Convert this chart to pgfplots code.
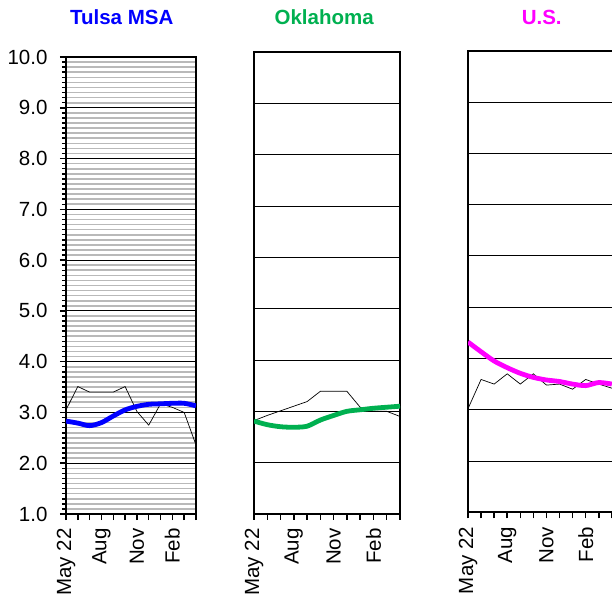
\documentclass[border=0pt]{standalone}
\usepackage{pgfplots}
\pgfplotsset{compat=1.18}
\usepackage{fontspec}
\setmainfont{Liberation Sans}
\definecolor{okgreen}{RGB}{0,176,80}
\definecolor{usmag}{RGB}{255,0,255}
\definecolor{tblue}{RGB}{0,0,255}

\pgfplotstableread{
x tulsa tulsat ok okt us ust
0 3.05 2.83 2.82 2.81 3.02 4.32
1 3.51 2.79 2.92 2.74 3.59 4.13
2 3.40 2.74 3.01 2.70 3.50 3.95
3 3.40 2.80 3.10 2.69 3.70 3.82
4 3.40 2.93 3.19 2.71 3.50 3.71
5 3.51 3.05 3.39 2.83 3.70 3.63
6 3.02 3.12 3.39 2.92 3.48 3.58
7 2.75 3.16 3.39 3.00 3.50 3.55
8 3.17 3.17 3.08 3.03 3.40 3.50
9 3.10 3.18 3.00 3.06 3.59 3.47
10 3.00 3.18 3.00 3.08 3.50 3.53
11 2.36 3.13 2.90 3.10 3.42 3.50
}\data

\newcommand{\lblfont}{\fontsize{20.5bp}{24bp}\selectfont}

\pgfplotsset{
  panel/.style={
    scale only axis,
    anchor=north west,
    xmin=0, xmax=11,
    ymin=1, ymax=10,
    xtick={0,...,11},
    xticklabels={May 22,,,Aug,,,Nov,,,Feb,,},
    xticklabel style={rotate=90, anchor=east, font=\lblfont},
    xticklabel shift=5bp,
    tick align=outside,
    xtick pos=bottom,
    ytick pos=left,
    x tick style={black, line width=1.5bp},
    major tick length=6bp,
    minor tick length=4bp,
    axis line style={black, line width=1.6bp},
    ymajorgrids,
    major grid style={black, line width=0.8bp},
  },
  thin/.style={black, line width=0.7bp, mark=none},
  trend/.style={line width=4.8bp, mark=none, smooth, tension=0.5},
}

\begin{document}
\begin{tikzpicture}
\path[use as bounding box] (0,0) rectangle (612bp,-598bp);

\begin{axis}[panel,
  at={(66bp,-57bp)}, width=130bp, height=457bp,
  ytick={1,...,10},
  minor y tick num=9,
  yminorgrids,
  minor grid style={gray!55, line width=1.6bp},
  y tick style={black, line width=1.5bp},
  yticklabel style={font=\lblfont, xshift=-9bp},
  /pgf/number format/.cd, fixed, fixed zerofill, precision=1, assume math mode=true,
]
\addplot[thin] table[x=x, y=tulsa] {\data};
\addplot[trend, tblue] table[x=x, y=tulsat] {\data};
\end{axis}

\begin{axis}[panel,
  at={(254bp,-52bp)}, width=146bp, height=462bp,
  ytick={2,...,9}, yticklabels={},
  y tick style={draw=none},
]
\addplot[thin] table[x=x, y=ok] {\data};
\addplot[trend, okgreen] table[x=x, y=okt] {\data};
\end{axis}

\begin{axis}[panel,
  at={(468bp,-50.7bp)}, width=145bp, height=461.6bp,
  xmax=11.09,
  ytick={2,...,9}, yticklabels={},
  y tick style={draw=none},
]
\addplot[thin] table[x=x, y=us] {\data};
\addplot[trend, usmag] table[x=x, y=ust] {\data};
\end{axis}

\node[anchor=base, text=tblue, font=\bfseries\lblfont] at (121.7bp,-24bp) {Tulsa MSA};
\node[anchor=base, text=okgreen, font=\bfseries\lblfont] at (324.2bp,-24bp) {Oklahoma};
\node[anchor=base, text=usmag, font=\bfseries\lblfont] at (541.7bp,-24bp) {U.S.};
\end{tikzpicture}
\end{document}
